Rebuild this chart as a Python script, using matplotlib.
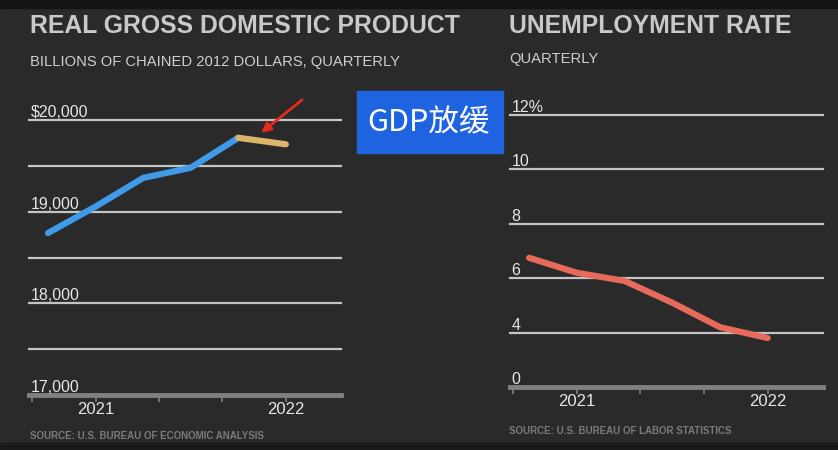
import matplotlib
matplotlib.use('Agg')
from matplotlib import pyplot as plt
from matplotlib import font_manager
from matplotlib.patches import Rectangle
from matplotlib.transforms import blended_transform_factory

FIGSIZE = (8.38, 4.5)
DPI = 100
BG = '#2a2a2a'

# quarterly x positions as year fractions (2020 Q4 .. 2022 Q1)
QUARTERS = [2020.75, 2021.0, 2021.25, 2021.5, 2021.75, 2022.0]
GDP_BLUE = [18767, 19056, 19368, 19479, 19806]
GDP_YELLOW = [19806, 19735]
UNEMP = [6.75, 6.2, 5.9, 5.1, 4.2, 3.8]

GDP_YTICKS = [17000, 17500, 18000, 18500, 19000, 19500, 20000]
GDP_YLABELS = {17000: '17,000', 18000: '18,000', 19000: '19,000', 20000: '$20,000'}
UNEMP_YTICKS = [2, 4, 6, 8, 10, 12]
UNEMP_YLABELS = ['0', '4', '6', '8', '10', '12%']
XTICKS = [2020 + 2 / 3, 2021.0, 2021 + 1 / 3, 2021 + 2 / 3, 2022.0]
YEAR_TICKS = [2021.0, 2022.0]
YEAR_LABELS = ['2021', '2022']

available = {f.name for f in font_manager.fontManager.ttflist}
FONT = 'Liberation Sans Narrow' if 'Liberation Sans Narrow' in available else 'Liberation Sans'
plt.rcParams['font.family'] = [FONT, 'DejaVu Sans']

TITLE_COLOR = '#c9c9c9'
SUB_COLOR = '#cfcfcf'
GRID_COLOR = '#c4c4c4'
LABEL_COLOR = '#e6e6e6'
AXIS_COLOR = '#808080'
SOURCE_COLOR = '#7b7b7b'


def px(x, y, w, h):
    # pixel box (from top-left) -> figure fraction rect
    W, H = FIGSIZE[0] * DPI, FIGSIZE[1] * DPI
    return [x / W, 1 - (y + h) / H, w / W, h / H]


def style_axis(ax, yticks, ylabels):
    ax.set_facecolor('none')
    for s in ax.spines.values():
        s.set_visible(False)
    ax.set_xlim(2020.65, 2022.29)
    ax.set_yticks([])
    trans = blended_transform_factory(ax.transAxes, ax.transData)
    for yv in yticks[1:]:
        ax.axhline(yv, color=GRID_COLOR, lw=1.6, clip_on=False, zorder=1)
    for yv, lab in ylabels:
        ax.text(0.005, yv, lab, transform=trans, ha='left', va='bottom',
                fontsize=11.5, color=LABEL_COLOR)
    ax.axhline(yticks[0], color=AXIS_COLOR, lw=3.5, clip_on=False, zorder=1)
    ax.set_xticks(XTICKS)
    ax.set_xticklabels([])
    ax.tick_params(axis='x', length=5, width=1.2, color=AXIS_COLOR, direction='out', pad=2)
    for xv, lab in zip(YEAR_TICKS, YEAR_LABELS):
        ax.annotate(lab, xy=(xv, 0), xycoords=('data', 'axes fraction'),
                    xytext=(0, -5), textcoords='offset points',
                    ha='center', va='top', fontsize=12, color=LABEL_COLOR)


fig = plt.figure(figsize=FIGSIZE, dpi=DPI, facecolor=BG)

# dark strips at top and bottom of the frame
fig.patches.append(Rectangle((0, 1 - 8 / 450), 1, 8 / 450, transform=fig.transFigure,
                             color='#141414', zorder=0))
fig.patches.append(Rectangle((0, 0), 1, 7 / 450, transform=fig.transFigure,
                             color='#1a1a1a', zorder=0))

# GDP panel
ax1 = fig.add_axes(px(29, 120, 312, 275))
ax1.set_ylim(17000, 20000)
style_axis(ax1, GDP_YTICKS, list(GDP_YLABELS.items()))
ax1.plot(QUARTERS[:5], GDP_BLUE, color='#3f9be8', lw=4.5, solid_capstyle='round',
         solid_joinstyle='round', zorder=3)
ax1.plot(QUARTERS[4:], GDP_YELLOW, color='#dcb46a', lw=4.5, solid_capstyle='round',
         solid_joinstyle='round', zorder=3)
ax1.annotate('', xy=(2021.87, 19860), xytext=(41, 33), textcoords='offset pixels',
             arrowprops=dict(arrowstyle='-|>', color='#e52a1e', lw=2,
                             mutation_scale=14, shrinkA=0, shrinkB=0))

# unemployment panel
ax2 = fig.add_axes(px(510, 115, 313, 272))
ax2.set_ylim(2, 12)
style_axis(ax2, UNEMP_YTICKS, list(zip(UNEMP_YTICKS, UNEMP_YLABELS)))
ax2.plot(QUARTERS, UNEMP, color='#e66b5b', lw=4.5, solid_capstyle='round',
         solid_joinstyle='round', zorder=3)

# titles, subtitles, sources
fig.text(30 / 838, 1 - 26 / 450, 'REAL GROSS DOMESTIC PRODUCT', fontsize=17.8,
         fontweight='bold', color=TITLE_COLOR, va='center')
fig.text(30 / 838, 1 - 62 / 450, 'BILLIONS OF CHAINED 2012 DOLLARS, QUARTERLY',
         fontsize=10.6, color=SUB_COLOR, va='center')
fig.text(30 / 838, 1 - 436 / 450, 'SOURCE: U.S. BUREAU OF ECONOMIC ANALYSIS',
         fontsize=7, fontweight='bold', color=SOURCE_COLOR, va='center')
fig.text(509 / 838, 1 - 26 / 450, 'UNEMPLOYMENT RATE', fontsize=17.8,
         fontweight='bold', color=TITLE_COLOR, va='center')
fig.text(509 / 838, 1 - 59 / 450, 'QUARTERLY', fontsize=10.6, color=SUB_COLOR, va='center')
fig.text(509 / 838, 1 - 431 / 450, 'SOURCE: U.S. BUREAU OF LABOR STATISTICS',
         fontsize=7, fontweight='bold', color=SOURCE_COLOR, va='center')

# overlay caption box
fig.patches.append(Rectangle((357 / 838, 1 - 153 / 450), 146 / 838, 62 / 450,
                             transform=fig.transFigure, color='#1f63e0', zorder=5))
fig.text(428 / 838, 1 - 123 / 450, 'GDP放缓', fontsize=22, color='white',
         ha='center', va='center', family=['Noto Sans CJK SC', 'DejaVu Sans'], zorder=6)

plt.savefig('out.png', dpi=DPI, facecolor=BG)
